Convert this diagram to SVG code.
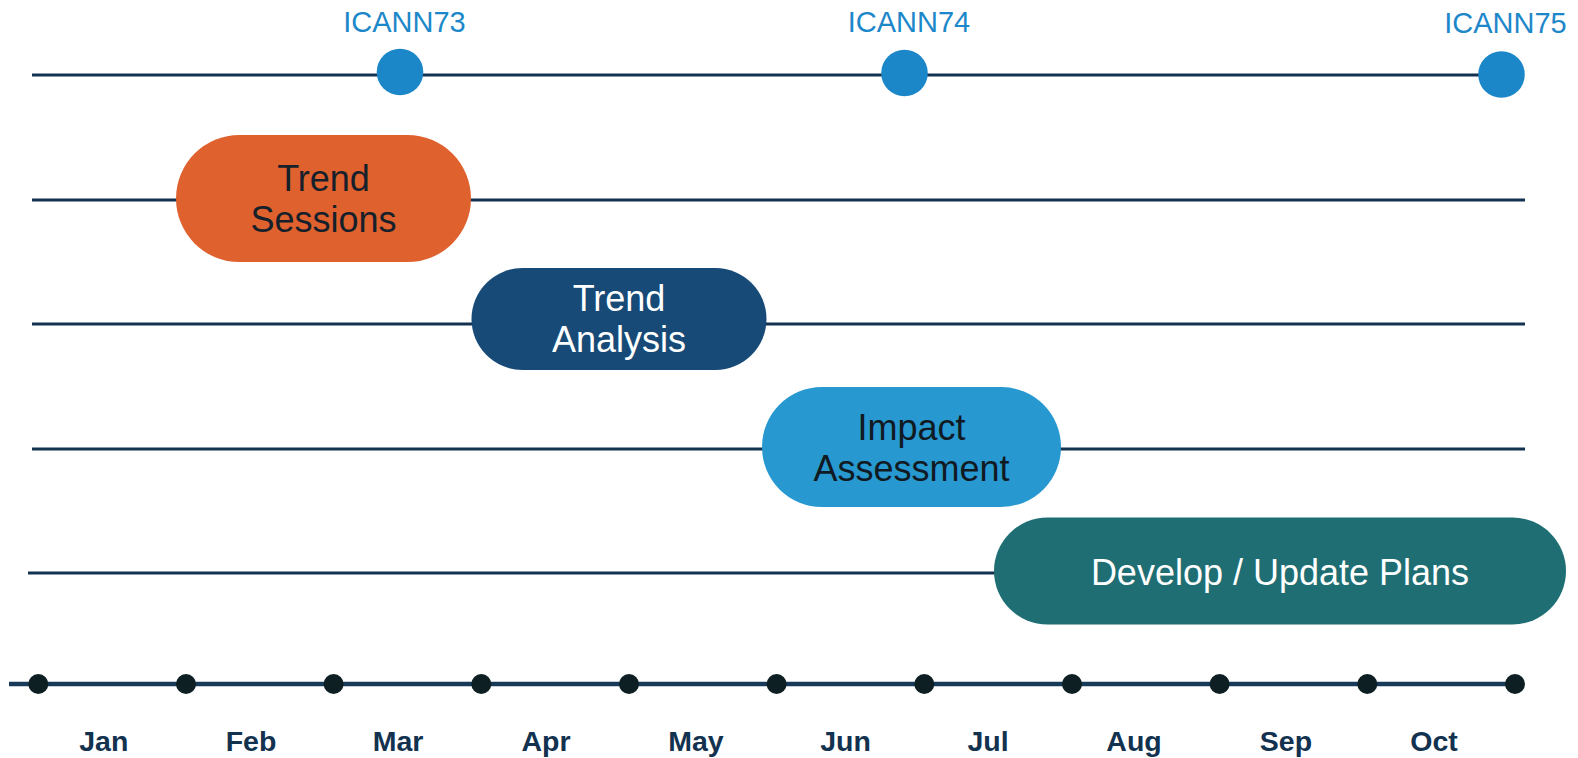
<svg xmlns="http://www.w3.org/2000/svg" width="1578" height="758" viewBox="0 0 1578 758">
<style>
.track{stroke:#12324f;stroke-width:3;fill:none}
.axis{stroke:#163a57;stroke-width:4.5;fill:none}
.tick{fill:#0e1f24}
.ev{fill:#1b87c8}
.evlabel{font-family:"Liberation Sans",Arial,sans-serif;font-size:29px;fill:#1c87c9;text-anchor:middle}
.pilltext{font-family:"Liberation Sans",Arial,sans-serif;font-size:36px;text-anchor:middle}
.month{font-family:"Liberation Sans",Arial,sans-serif;font-size:28.5px;font-weight:bold;fill:#12324f;text-anchor:middle}
</style>
<rect width="1578" height="758" fill="#ffffff"/>
<g id="connectors">
<line class="track" x1="32" y1="75" x2="1500" y2="75"/>
<line class="track" x1="32" y1="200" x2="1525" y2="200"/>
<line class="track" x1="32" y1="324" x2="1525" y2="324"/>
<line class="track" x1="32" y1="449" x2="1525" y2="449"/>
<line class="track" x1="28" y1="573" x2="1000" y2="573"/>
</g>
<g id="milestones">
<g id="icann73"><circle class="ev" cx="400" cy="72" r="23.3"/><text class="evlabel" x="404.5" y="32">ICANN73</text></g>
<g id="icann74"><circle class="ev" cx="904.5" cy="73" r="23.3"/><text class="evlabel" x="909" y="32">ICANN74</text></g>
<g id="icann75"><circle class="ev" cx="1501.5" cy="74.5" r="23.3"/><text class="evlabel" x="1505.5" y="33">ICANN75</text></g>
</g>
<g id="trend-sessions">
<rect x="176" y="135" width="295" height="127" rx="63.5" ry="63.5" fill="#df612e"/>
<text class="pilltext" fill="#15202b"><tspan x="323.5" y="190.5">Trend</tspan><tspan x="323.5" y="231.5">Sessions</tspan></text>
</g>
<g id="trend-analysis">
<rect x="471.5" y="268" width="295" height="102" rx="51" ry="51" fill="#174a77"/>
<text class="pilltext" fill="#ffffff"><tspan x="619" y="311">Trend</tspan><tspan x="619" y="351.5">Analysis</tspan></text>
</g>
<g id="impact-assessment">
<rect x="762" y="387" width="299" height="120" rx="60" ry="60" fill="#2798d0"/>
<text class="pilltext" fill="#111a22"><tspan x="911.5" y="440">Impact</tspan><tspan x="911.5" y="481">Assessment</tspan></text>
</g>
<g id="develop-update-plans">
<rect x="994" y="517.5" width="572" height="107" rx="53.5" ry="53.5" fill="#1e6e73"/>
<text class="pilltext" fill="#ffffff" x="1280" y="585">Develop / Update Plans</text>
</g>
<g id="timeline-axis">
<line class="axis" x1="9" y1="684" x2="1515" y2="684"/>
<circle class="tick" cx="38.3" cy="684" r="10"/>
<circle class="tick" cx="186" cy="684" r="10"/>
<circle class="tick" cx="333.6" cy="684" r="10"/>
<circle class="tick" cx="481.3" cy="684" r="10"/>
<circle class="tick" cx="629" cy="684" r="10"/>
<circle class="tick" cx="776.6" cy="684" r="10"/>
<circle class="tick" cx="924.3" cy="684" r="10"/>
<circle class="tick" cx="1072" cy="684" r="10"/>
<circle class="tick" cx="1219.6" cy="684" r="10"/>
<circle class="tick" cx="1367.3" cy="684" r="10"/>
<circle class="tick" cx="1515" cy="684" r="10"/>
</g>
<g id="months">
<text class="month" x="103.8" y="750.5">Jan</text>
<text class="month" x="251" y="750.5">Feb</text>
<text class="month" x="398" y="750.5">Mar</text>
<text class="month" x="546" y="750.5">Apr</text>
<text class="month" x="696" y="750.5">May</text>
<text class="month" x="845.5" y="750.5">Jun</text>
<text class="month" x="988" y="750.5">Jul</text>
<text class="month" x="1134" y="750.5">Aug</text>
<text class="month" x="1286" y="750.5">Sep</text>
<text class="month" x="1434" y="750.5">Oct</text>
</g>
</svg>
